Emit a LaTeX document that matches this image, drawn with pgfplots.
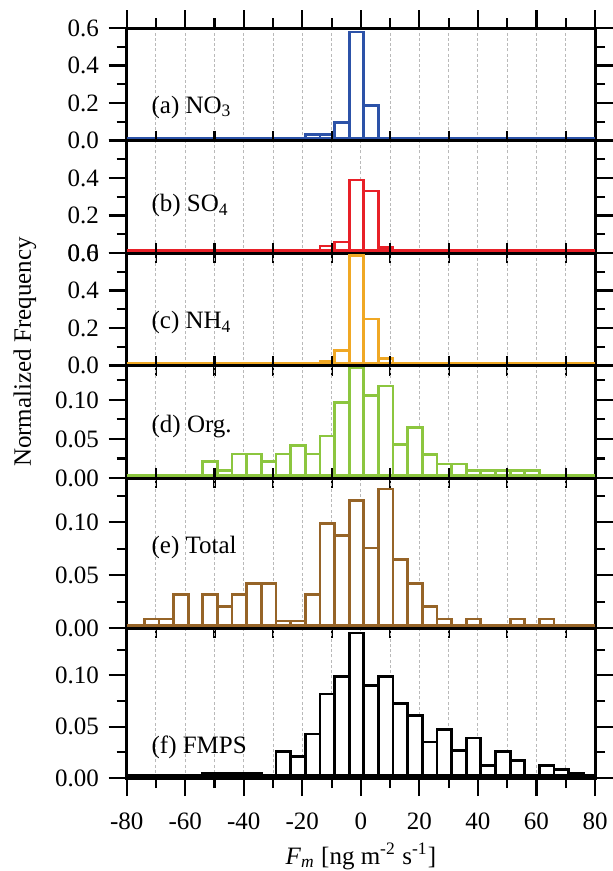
\documentclass[border=0pt]{standalone}
\usepackage{fontspec}
\setmainfont{Liberation Serif}
\usepackage{pgfplots}
\usepackage{pgfplotstable}
\pgfplotsset{compat=1.18}

\definecolor{cNO}{RGB}{44,82,168}
\definecolor{cSO}{RGB}{232,32,40}
\definecolor{cNH}{RGB}{240,168,36}
\definecolor{cOrg}{RGB}{140,198,63}
\definecolor{cTot}{RGB}{150,100,40}
\definecolor{cFM}{RGB}{0,0,0}

% histograms: left bin edge, normalized frequency (last row closes the final bin)
\pgfplotstableread{
x y
-19 0.020
-14 0.020
-9 0.085
-4 0.567
1 0.176
6 0
}\tabNO
\pgfplotstableread{
x y
-14 0.026
-9 0.047
-4 0.377
1 0.319
6 0.017
11 0
}\tabSO
\pgfplotstableread{
x y
-14 0.009
-9 0.069
-4 0.573
1 0.236
6 0.027
11 0
}\tabNH
\pgfplotstableread{
x y
-54 0.018
-49 0.0065
-44 0.028
-39 0.028
-34 0.018
-29 0.028
-24 0.039
-19 0.028
-14 0.051
-9 0.094
-4 0.138
1 0.103
6 0.115
11 0.040
16 0.062
21 0.027
26 0.015
31 0.015
36 0.0065
41 0.0065
46 0.0065
51 0.0065
56 0.0065
61 0
}\tabOrg
\pgfplotstableread{
x y
-74 0.0064
-69 0.0064
-64 0.0297
-59 0
-54 0.0297
-49 0.0179
-44 0.0297
-39 0.0403
-34 0.0403
-29 0.0045
-24 0.0045
-19 0.0297
-14 0.0968
-9 0.0856
-4 0.1185
1 0.0735
6 0.1294
11 0.0626
16 0.0403
21 0.0179
26 0.0064
31 0
36 0.0064
41 0
46 0
51 0.0064
56 0
61 0.0064
66 0
}\tabTot
\pgfplotstableread{
x y
-54 0.002
-49 0.002
-44 0.002
-39 0.002
-34 0
-29 0.0237
-24 0.0188
-19 0.0406
-14 0.0795
-9 0.0968
-4 0.139
1 0.0877
6 0.0968
11 0.0701
16 0.0584
21 0.0328
26 0.0448
31 0.0244
36 0.0367
41 0.0097
46 0.0237
51 0.0146
56 0
61 0.0097
66 0.0058
71 0.0026
76 0
}\tabFM

\tikzset{tag/.style={anchor=base west, inner sep=0pt}}

\pgfplotsset{
  every axis/.append style={line width=1.2pt},
  panel/.style={
    scale only axis, width=187.32pt,
    xmin=-80, xmax=80,
    xtick={-80,-60,...,80}, minor xtick={-70,-50,...,70},
    xmajorgrids, xminorgrids,
    major grid style={draw=gray!55, line width=0.4pt, dash pattern=on 1.2pt off 0.9pt},
    minor grid style={draw=gray!55, line width=0.4pt, dash pattern=on 1.2pt off 0.9pt},
    tick align=outside,
    major tick length=7.2pt, minor tick length=4pt,
    every tick/.style={black, line width=0.85pt},
    ytick pos=both, yticklabel pos=left,
    every axis plot/.append style={line width=1.1pt, yshift=0.9pt},
  },
  noxticks/.style={xmajorticks=false, xminorticks=false, xticklabels={}},
  coarse/.style={height=45pt, ymin=0, ymax=0.6,
    ytick={0,0.2,0.4,0.6}, minor ytick={0.1,0.3,0.5}},
  fine/.style={ytick={0,0.05,0.10}, yticklabels={0.00,0.05,0.10},
    minor ytick={0.025,0.075,0.125}},
}

\begin{document}
\begin{tikzpicture}
\path[use as bounding box] (-50.68pt,0pt) rectangle (194.12pt,-348.4pt);

% (a) nitrate
\begin{axis}[panel, coarse, at={(0pt,-56.2pt)},
  xtick pos=upper, xticklabels={}, yticklabels={0.0,0.2,0.4,0.6}]
\addplot[cNO] coordinates {(-80,0) (80,0)};
\addplot[ybar interval, draw=cNO, fill=white] table {\tabNO};
\node[tag] at (rel axis cs:0.05,0.244) {(a) NO\textsubscript{3}};
\end{axis}

% (b) sulfate
\begin{axis}[panel, coarse, noxticks, at={(0pt,-101.2pt)},
  yticklabels={0.0,0.2,0.4,{}}]
\addplot[cSO] coordinates {(-80,0) (80,0)};
\addplot[ybar interval, draw=cSO, fill=white] table {\tabSO};
\node[tag] at (rel axis cs:0.05,0.367) {(b) SO\textsubscript{4}};
\end{axis}

% (c) ammonium
\begin{axis}[panel, coarse, noxticks, at={(0pt,-146.2pt)},
  yticklabels={0.0,0.2,0.4,0.6}]
\addplot[cNH] coordinates {(-80,0) (80,0)};
\addplot[ybar interval, draw=cNH, fill=white] table {\tabNH};
\node[tag] at (rel axis cs:0.05,0.331) {(c) NH\textsubscript{4}};
\end{axis}

% (d) organics
\begin{axis}[panel, fine, noxticks, at={(0pt,-191.2pt)},
  height=45pt, ymin=0, ymax=0.144]
\addplot[cOrg] coordinates {(-80,0) (80,0)};
\addplot[ybar interval, draw=cOrg, fill=white] table {\tabOrg};
\node[tag] at (rel axis cs:0.05,0.403) {(d) Org.};
\end{axis}

% (e) total
\begin{axis}[panel, fine, noxticks, at={(0pt,-251.2pt)},
  height=60pt, ymin=0, ymax=0.142]
\addplot[cTot] coordinates {(-80,0) (80,0)};
\addplot[ybar interval, draw=cTot, fill=white] table {\tabTot};
\node[tag] at (rel axis cs:0.05,0.498) {(e) Total};
\end{axis}

% (f) FMPS
\begin{axis}[panel, fine, at={(0pt,-311.2pt)},
  height=60pt, ymin=0, ymax=0.146,
  xtick pos=lower, xticklabels={-80,-60,-40,-20,0,20,40,60,80},
  xticklabel style={yshift=-2.8pt}]
\addplot[cFM] coordinates {(-80,0) (80,0)};
\addplot[ybar interval, draw=cFM, fill=white] table {\tabFM};
\node[tag] at (rel axis cs:0.05,0.165) {(f) FMPS};
\end{axis}

\node[rotate=90] at (-40.7pt,-140.8pt) {Normalized Frequency};
\node[anchor=base] at (93.68pt,-345.6pt)
  {\textit{F}\textsubscript{\textit{m}} [ng m\textsuperscript{-2} s\textsuperscript{-1}]};
\end{tikzpicture}
\end{document}
